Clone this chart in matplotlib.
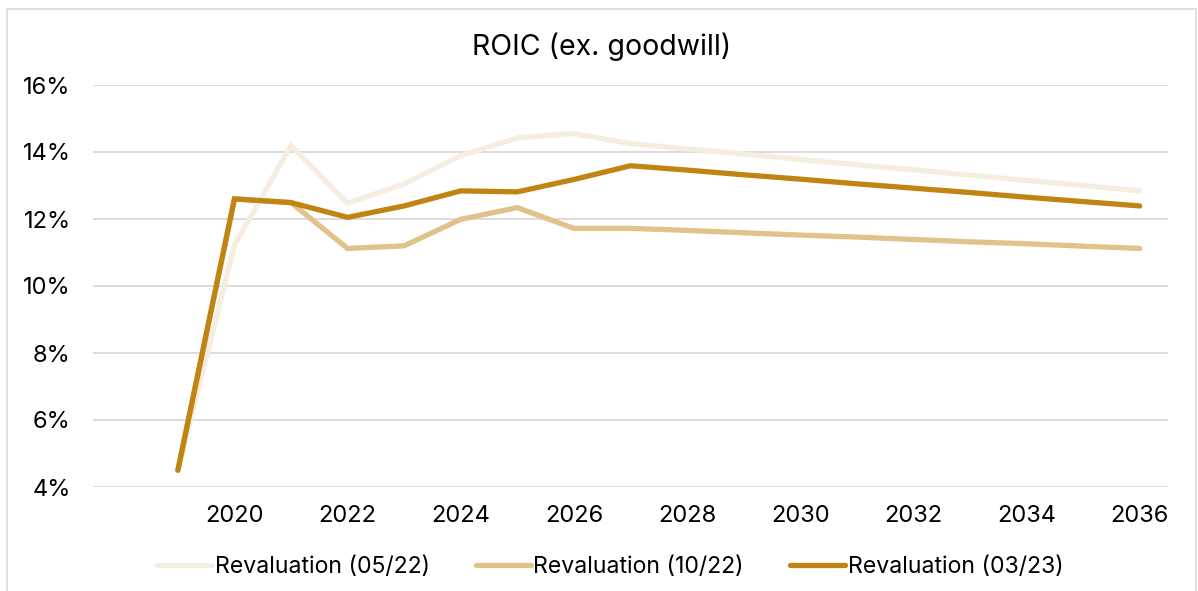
import matplotlib.pyplot as plt
from matplotlib.patches import Rectangle
from matplotlib.ticker import FuncFormatter

plt.rcParams["font.family"] = ["Inter", "DejaVu Sans"]

## -- data --
years = list(range(2019, 2037))
reval_05_22 = [4.5, 11.22, 14.19, 12.47, 13.05, 13.89, 14.42, 14.55, 14.25,
               14.09, 13.94, 13.78, 13.62, 13.47, 13.31, 13.15, 13.00, 12.84]
reval_10_22 = [4.5, 12.6, 12.49, 11.12, 11.2, 11.99, 12.34, 11.72, 11.72,
               11.66, 11.59, 11.52, 11.46, 11.39, 11.32, 11.26, 11.19, 11.12]
reval_03_23 = [4.5, 12.6, 12.49, 12.05, 12.39, 12.84, 12.81, 13.18, 13.59,
               13.46, 13.32, 13.19, 13.05, 12.92, 12.79, 12.65, 12.52, 12.39]
labels = ["Revaluation (05/22)", "Revaluation (10/22)", "Revaluation (03/23)"]
colors = ["#F5EDDF", "#E0C28A", "#C08412"]
xticks = list(range(2020, 2037, 2))
yticks = [4, 6, 8, 10, 12, 14, 16]


def main():
    fig = plt.figure(figsize=(11.98, 5.91), dpi=100)
    # outer chart border
    fig.patches.append(Rectangle((7 / 1198, -0.01), 1189 / 1198, 1 - 9 / 591 + 0.01,
                                 transform=fig.transFigure, fill=False,
                                 edgecolor="#D9D9D9", linewidth=1.2))
    ax = fig.add_axes([93 / 1198, 1 - 487 / 591, 1075 / 1198, 402 / 591])

    for vals, lbl, c in zip([reval_05_22, reval_10_22, reval_03_23], labels, colors):
        ax.plot(years, vals, color=c, linewidth=3.8, label=lbl,
                solid_capstyle="round", solid_joinstyle="miter")

    ax.set_xlim(2017.5, 2036.5)
    ax.set_ylim(4, 16)
    ax.set_xticks(xticks)
    ax.set_yticks(yticks)
    ax.yaxis.set_major_formatter(FuncFormatter(lambda v, p: "%d%%" % v))
    ax.grid(axis="y", color="#D9D9D9", linewidth=1.3)
    ax.set_axisbelow(True)
    for s in ax.spines.values():
        s.set_visible(False)
    ax.tick_params(axis="y", length=0, pad=16, labelsize=17, labelcolor="#000000")
    ax.tick_params(axis="x", length=0, pad=13, labelsize=17, labelcolor="#000000")

    fig.text(602 / 1198, 1 - 47 / 591, "ROIC (ex. goodwill)", ha="center",
             va="center", fontsize=20.5)
    fig.legend(loc="center", bbox_to_anchor=(610 / 1198, 1 - 567 / 591), ncol=3,
               frameon=False, fontsize=16.6, handlelength=2.4, handletextpad=0.1,
               columnspacing=2.0)

    fig.savefig("out.png", dpi=100)


if __name__ == "__main__":
    main()
